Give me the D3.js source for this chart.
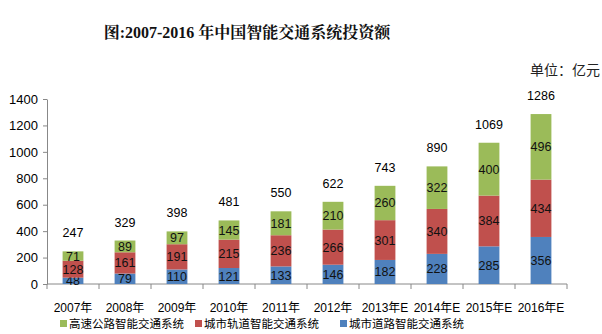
<!DOCTYPE html>
<html><head><meta charset="utf-8">
<script src="https://cdn.jsdelivr.net/npm/d3@7"></script>
<style>body{margin:0;background:#fff}svg{display:block}</style>
</head><body>
<svg id="c" width="602" height="334"></svg>
<script>
const categories = ["2007年","2008年","2009年","2010年","2011年","2012年","2013年E","2014年E","2015年E","2016年E"];
const roadCity = [48,79,110,121,133,146,182,228,285,356];
const railCity = [128,161,191,215,236,266,301,340,384,434];
const highway = [71,89,97,145,181,210,260,322,400,496];
const totals = [247,329,398,481,550,622,743,890,1069,1286];
const yTicks = [0,200,400,600,800,1000,1200,1400];
const seriesNames = ["高速公路智能交通系统","城市轨道智能交通系统","城市道路智能交通系统"];
const colors = {highway:"#9BBB59", rail:"#C0504D", road:"#4F81BD"};

const svg = d3.select("#c");
const font = "'Liberation Sans','Noto Sans CJK SC',sans-serif";
const x0 = 47, x1 = 567, yTop = 99, yBot = 284;

const x = d3.scaleBand().domain(categories).range([x0, x1]).paddingInner(0.6).paddingOuter(0.3);
const y = d3.scaleLinear().domain([0,1400]).range([yBot, yTop]);

// title
svg.append("text").attr("x",247).attr("y",38).attr("text-anchor","middle")
  .attr("font-family","'Liberation Serif','Noto Serif CJK SC','Noto Sans CJK SC',serif")
  .attr("font-weight","bold").attr("font-size",16).attr("fill","#111")
  .text("图:2007-2016 年中国智能交通系统投资额");
svg.append("text").attr("x",600).attr("y",75).attr("text-anchor","end")
  .attr("font-family","'Noto Sans CJK SC',sans-serif").attr("font-size",14).attr("fill","#222").text("单位：亿元");

// axes
const yAxis = d3.axisLeft(y).tickValues(yTicks).tickFormat(d3.format("d")).tickSize(4).tickSizeOuter(0);
const gy = svg.append("g").attr("transform",`translate(${x0},0)`).call(yAxis);
gy.select(".domain").attr("stroke","#888");
gy.selectAll(".tick line").attr("stroke","#888");
gy.selectAll(".tick text").attr("font-family",font).attr("font-size",13).attr("fill","#000").attr("x",-9);

const xb = d3.scaleLinear().domain([0,categories.length]).range([x0,x1]);
const gx = svg.append("g").attr("transform",`translate(0,${yBot})`);
gx.append("line").attr("x1",x0).attr("x2",x1).attr("stroke","#888");
gx.selectAll("line.t").data(d3.range(categories.length+1)).join("line").attr("class","t")
  .attr("x1",d=>xb(d)).attr("x2",d=>xb(d)).attr("y1",0).attr("y2",5).attr("stroke","#888");
gx.selectAll("text").data(categories).join("text")
  .attr("x",d=>x(d)+x.bandwidth()/2).attr("y",28).attr("text-anchor","middle")
  .attr("font-family",font).attr("font-size",12).attr("fill","#000").text(d=>d);

// stacks
const data = categories.map((c,i)=>({cat:c, road:roadCity[i], rail:railCity[i], highway:highway[i], total:totals[i]}));
const stack = d3.stack().keys(["road","rail","highway"])(data);
const g = svg.append("g");
stack.forEach(layer=>{
  g.selectAll(null).data(layer).join("rect")
    .attr("x",d=>x(d.data.cat)).attr("width",x.bandwidth())
    .attr("y",d=>y(d[1])).attr("height",d=>y(d[0])-y(d[1]))
    .attr("fill",colors[layer.key]);
  g.selectAll(null).data(layer).join("text")
    .attr("x",d=>x(d.data.cat)+x.bandwidth()/2).attr("y",d=>(y(d[0])+y(d[1]))/2+4.5)
    .attr("text-anchor","middle").attr("font-family",font).attr("font-size",12.5).attr("fill","#111")
    .text(d=>d.data[layer.key]);
});
g.selectAll("text.tot").data(data).join("text").attr("class","tot")
  .attr("x",d=>x(d.cat)+x.bandwidth()/2).attr("y",d=>y(d.total)-14)
  .attr("text-anchor","middle").attr("font-family",font).attr("font-size",12.5).attr("fill","#000")
  .text(d=>d.total);

// legend
const legend = [
  {name:seriesNames[0], color:colors.highway, x:60},
  {name:seriesNames[1], color:colors.rail, x:195},
  {name:seriesNames[2], color:colors.road, x:340}
];
const lg = svg.selectAll("g.lg").data(legend).join("g").attr("class","lg");
lg.append("rect").attr("x",d=>d.x).attr("y",320).attr("width",7).attr("height",7).attr("fill",d=>d.color);
lg.append("text").attr("x",d=>d.x+9).attr("y",328).attr("font-family","'Noto Sans CJK SC',sans-serif").attr("font-size",11.5).attr("fill","#000").text(d=>d.name);
</script>
</body></html>
